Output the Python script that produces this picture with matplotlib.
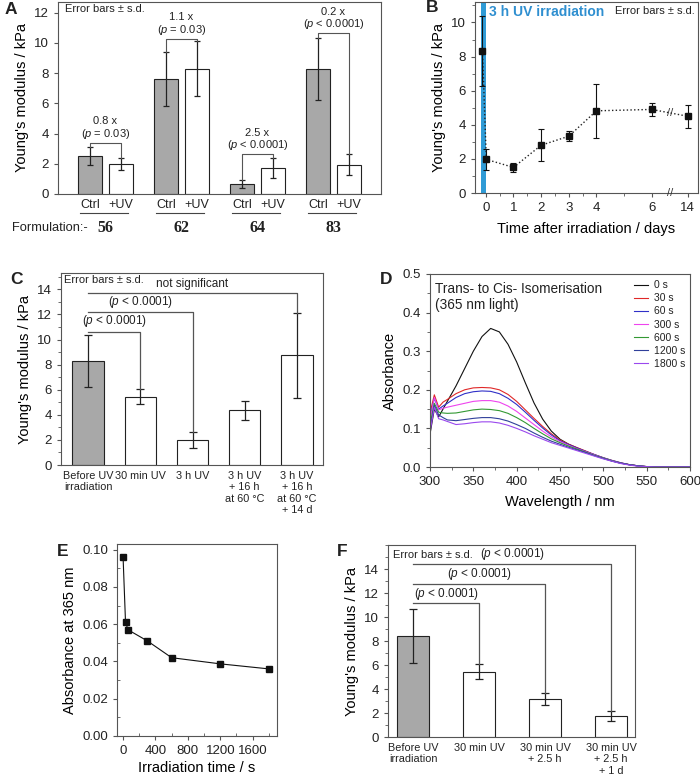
import numpy as np
import matplotlib
matplotlib.use('Agg')
import matplotlib.pyplot as plt
from matplotlib.ticker import MultipleLocator, FormatStrFormatter

plt.rcParams['font.family'] = ['Liberation Sans', 'DejaVu Sans']
plt.rcParams['mathtext.fontset'] = 'custom'
plt.rcParams['mathtext.rm'] = 'Liberation Sans'
plt.rcParams['mathtext.it'] = 'Liberation Sans:italic'
plt.rcParams['axes.edgecolor'] = '#555555'
plt.rcParams['axes.linewidth'] = 0.8
plt.rcParams['xtick.color'] = '#555555'
plt.rcParams['ytick.color'] = '#555555'
plt.rcParams['xtick.labelcolor'] = '#222222'
plt.rcParams['ytick.labelcolor'] = '#222222'
plt.rcParams['xtick.labelsize'] = 9.5
plt.rcParams['ytick.labelsize'] = 9.5
plt.rcParams['axes.labelsize'] = 10.5
plt.rcParams['text.color'] = '#222222'

# ---- panel A: formulations, ctrl vs +UV
formulations = ['56', '62', '64', '83']
ctrl_mean = [2.5, 7.6, 0.65, 8.3]
ctrl_sd = [0.6, 1.8, 0.25, 2.05]
uv_mean = [2.0, 8.3, 1.72, 1.93]
uv_sd = [0.4, 1.85, 0.68, 0.7]
fold_text = ['0.8 x', '1.1 x', '2.5 x', '0.2 x']
p_text_a = ['= 0.03', '= 0.03', '< 0.0001', '< 0.0001']
bracket_a = [3.4, 10.27, 2.65, 10.65]

# ---- panel B: time after irradiation
b_labels = ['0', '1', '2', '3', '4', '6', '14']
b_tickpos = [0, 1, 2, 3, 4, 6, 7.3]
b_x = [-0.12, 0.02, 1, 2, 3, 4, 6, 7.3]
b_mean = [8.3, 1.97, 1.5, 2.8, 3.33, 4.82, 4.9, 4.5]
b_sd = [2.05, 0.63, 0.25, 0.95, 0.3, 1.6, 0.37, 0.68]

# ---- panel C
c_labels = ['Before UV\nirradiation', '30 min UV', '3 h UV',
            '3 h UV\n+ 16 h\nat 60 °C', '3 h UV\n+ 16 h\nat 60 °C\n+ 14 d']
c_mean = [8.3, 5.45, 2.0, 4.35, 8.75]
c_sd = [2.05, 0.6, 0.63, 0.75, 3.4]
c_pairs = [1, 2, 4]
c_bracket = [10.6, 12.17, 13.73]
c_text = [r'($\it{p}$ < 0.0001)', r'($\it{p}$ < 0.0001)', 'not significant']

# ---- panel D: spectra
wl = [300, 305, 310, 315, 320, 330, 340, 350, 360, 370, 380, 390, 400, 410, 420,
      430, 440, 450, 460, 470, 480, 490, 500, 510, 520, 530, 540, 550, 560, 580, 600]
abs_0 = [0.085, 0.15, 0.13, 0.15, 0.17, 0.21, 0.255, 0.3, 0.338, 0.359, 0.35, 0.318,
         0.272, 0.218, 0.166, 0.124, 0.093, 0.072, 0.059, 0.049, 0.04, 0.031, 0.023,
         0.016, 0.01, 0.006, 0.003, 0.001, 0.0, 0.0, 0.0]
abs_30 = [0.14, 0.187, 0.155, 0.168, 0.175, 0.19, 0.2, 0.205, 0.206, 0.205, 0.2, 0.188,
          0.17, 0.148, 0.126, 0.105, 0.086, 0.07, 0.059, 0.05, 0.041, 0.032, 0.024,
          0.017, 0.011, 0.006, 0.003, 0.001, 0.0, 0.0, 0.0]
abs_60 = [0.13, 0.178, 0.15, 0.158, 0.165, 0.18, 0.19, 0.195, 0.197, 0.196, 0.19, 0.178,
          0.162, 0.142, 0.121, 0.101, 0.083, 0.068, 0.058, 0.049, 0.04, 0.032, 0.024,
          0.017, 0.011, 0.006, 0.003, 0.001, 0.0, 0.0, 0.0]
abs_300 = [0.12, 0.18, 0.148, 0.152, 0.155, 0.16, 0.165, 0.17, 0.172, 0.172, 0.168, 0.158,
           0.144, 0.127, 0.11, 0.093, 0.078, 0.066, 0.056, 0.047, 0.039, 0.031, 0.023,
           0.016, 0.01, 0.006, 0.003, 0.001, 0.0, 0.0, 0.0]
abs_600 = [0.11, 0.165, 0.142, 0.14, 0.139, 0.14, 0.144, 0.148, 0.15, 0.149, 0.146, 0.139,
           0.128, 0.115, 0.1, 0.086, 0.073, 0.063, 0.054, 0.046, 0.038, 0.03, 0.023,
           0.016, 0.01, 0.006, 0.003, 0.001, 0.0, 0.0, 0.0]
abs_1200 = [0.1, 0.16, 0.135, 0.128, 0.122, 0.12, 0.123, 0.126, 0.128, 0.128, 0.125, 0.119,
            0.11, 0.1, 0.088, 0.077, 0.067, 0.059, 0.051, 0.044, 0.037, 0.029, 0.022,
            0.015, 0.01, 0.006, 0.003, 0.001, 0.0, 0.0, 0.0]
abs_1800 = [0.09, 0.155, 0.125, 0.122, 0.118, 0.11, 0.112, 0.115, 0.117, 0.117, 0.114, 0.108,
            0.1, 0.091, 0.081, 0.072, 0.063, 0.056, 0.049, 0.042, 0.035, 0.028, 0.021,
            0.015, 0.009, 0.005, 0.002, 0.001, 0.0, 0.0, 0.0]
spec_labels = ['0 s', '30 s', '60 s', '300 s', '600 s', '1200 s', '1800 s']
spec_colors = ['#111111', '#e02828', '#3030c8', '#ee44ee', '#339933', '#30409a', '#9a48ee']

# ---- panel E
e_time = [0, 30, 60, 300, 600, 1200, 1800]
e_abs = [0.096, 0.0612, 0.057, 0.051, 0.042, 0.0387, 0.036]

# ---- panel F
f_labels = ['Before UV\nirradiation', '30 min UV', '30 min UV\n+ 2.5 h',
            '30 min UV\n+ 2.5 h\n+ 1 d']
f_mean = [8.45, 5.45, 3.2, 1.75]
f_sd = [2.25, 0.62, 0.5, 0.38]
f_pairs = [1, 2, 3]
f_bracket = [11.13, 12.75, 14.4]

W, H = 700, 776
fig = plt.figure(figsize=(7, 7.76), dpi=100)


def box(l, t, r, b):
    return [l / W, 1 - b / H, (r - l) / W, (b - t) / H]


grey = '#a8a8a8'
ekw = dict(elinewidth=0.9, ecolor='#222222', capthick=0.9)
brc = '#555555'

# ================= A =================
ax = fig.add_axes(box(58, 2, 381, 194))
x = np.arange(len(formulations))
ax.bar(x - 0.2, ctrl_mean, 0.32, color=grey, edgecolor='#222222', lw=0.8,
       yerr=ctrl_sd, capsize=2, error_kw=ekw)
ax.bar(x + 0.2, uv_mean, 0.32, color='white', edgecolor='#222222', lw=0.8,
       yerr=uv_sd, capsize=2, error_kw=ekw)
ax.set_xlim(-0.625, 3.625)
ax.set_ylim(0, 12.7)
ax.set_yticks(range(0, 13, 2))
ax.set_xticks([])
ax.tick_params(axis='y', length=3, width=0.8)
ax.set_ylabel("Young's modulus / kPa")
for i in range(len(formulations)):
    xl, xr = i - 0.2, i + 0.2
    yl = ctrl_mean[i] + ctrl_sd[i]
    yr = uv_mean[i] + uv_sd[i]
    yb = bracket_a[i]
    ax.plot([xl, xl, xr, xr], [yl, yb, yb, yr], color=brc, lw=0.8)
    ax.text(i, yb + 0.12, fold_text[i] + '\n' + r'($\it{p}$ ' + p_text_a[i] + ')',
            ha='center', va='bottom', fontsize=8, linespacing=1.05)
    tr = ax.get_xaxis_transform()
    ax.text(xl, -0.057, 'Ctrl', ha='center', va='center', fontsize=9, transform=tr)
    ax.text(xr, -0.057, '+UV', ha='center', va='center', fontsize=9, transform=tr)
    ax.plot([i - 0.33, i + 0.3], [-0.1, -0.1], color='#444444', lw=0.8,
            transform=tr, clip_on=False)
    ax.text(i, -0.177, formulations[i], ha='center', va='center', fontsize=11.5,
            fontweight='bold', family='Liberation Serif', transform=tr)
ax.text(0.022, 0.962, 'Error bars ± s.d.', transform=ax.transAxes, fontsize=8,
        va='center', ha='left')
fig.text(12 / W, 1 - 228 / H, 'Formulation:-', fontsize=9.3, va='center')
fig.text(5 / W, 1 - 10 / H, 'A', fontsize=12.5, fontweight='bold', va='center')

# ================= B =================
ax = fig.add_axes(box(475, 2, 698, 193))
ax.axvspan(-0.19, 0.0, color='#2f9bd6', lw=0)
ax.errorbar(b_x, b_mean, yerr=b_sd, fmt='s', color='#111111', ms=4, capsize=2,
            elinewidth=0.8, capthick=0.8, zorder=3)
ax.plot(b_x, b_mean, ':', color='#222222', lw=1.0, zorder=2)
ax.set_xlim(-0.39, 7.67)
ax.set_ylim(0, 11.2)
ax.set_xticks(b_tickpos)
ax.set_xticklabels(b_labels)
ax.set_xticks([0.5, 1.5, 2.5, 3.5, 5], minor=True)
ax.set_yticks(range(0, 11, 2))
ax.yaxis.set_minor_locator(MultipleLocator(1))
ax.tick_params(which='major', length=3, width=0.8)
ax.tick_params(which='minor', length=2, width=0.6)
ax.set_ylabel("Young's modulus / kPa")
ax.set_xlabel('Time after irradiation / days', labelpad=6)
ax.text(6.65, 0, '//', ha='center', va='center', fontsize=8, color='#333333',
        clip_on=False, zorder=5)
ax.text(6.65, 4.72, '//', ha='center', va='center', fontsize=8, color='#333333',
        zorder=5)
ax.text(0.1, 10.6, '3 h UV irradiation', color='#2f8fd0', fontweight='bold',
        fontsize=10, va='center')
ax.text(0.985, 0.955, 'Error bars ± s.d.', transform=ax.transAxes, fontsize=8,
        va='center', ha='right')
fig.text(426 / W, 1 - 8 / H, 'B', fontsize=12.5, fontweight='bold', va='center')

# ================= C =================
ax = fig.add_axes(box(61, 273, 323, 465))
x = np.arange(len(c_mean))
colors_c = [grey] + ['white'] * (len(c_mean) - 1)
ax.bar(x, c_mean, 0.6, color=colors_c, edgecolor='#222222', lw=0.8,
       yerr=c_sd, capsize=3, error_kw=ekw)
ax.set_xlim(-0.52, 4.5)
ax.set_ylim(0, 15.3)
ax.set_yticks(range(0, 15, 2))
ax.yaxis.set_minor_locator(MultipleLocator(1))
ax.tick_params(which='major', length=3, width=0.8)
ax.tick_params(which='minor', length=2, width=0.6)
ax.set_xticks(x)
ax.set_xticklabels(c_labels, fontsize=7.8, linespacing=1.2)
ax.tick_params(axis='x', length=0, pad=4)
ax.set_ylabel("Young's modulus / kPa")
for j, k in enumerate(c_pairs):
    yb = c_bracket[j]
    ax.plot([0, k, k], [yb, yb, c_mean[k] + c_sd[k]], color=brc, lw=0.9)
    ax.text(k / 2, yb + 0.2, c_text[j], ha='center', va='bottom', fontsize=8.5)
ax.text(0.01, 0.962, 'Error bars ± s.d.', transform=ax.transAxes, fontsize=8,
        va='center', ha='left')
fig.text(10 / W, 1 - 279 / H, 'C', fontsize=12.5, fontweight='bold', va='center')

# ================= D =================
ax = fig.add_axes(box(430, 274, 690, 467))
spectra = [abs_0, abs_30, abs_60, abs_300, abs_600, abs_1200, abs_1800]
for s, lab, col in zip(spectra, spec_labels, spec_colors):
    ax.plot(wl, s, color=col, lw=0.8, label=lab)
ax.set_xlim(300, 600)
ax.set_ylim(0, 0.5)
ax.xaxis.set_major_locator(MultipleLocator(50))
ax.xaxis.set_minor_locator(MultipleLocator(25))
ax.yaxis.set_major_locator(MultipleLocator(0.1))
ax.yaxis.set_minor_locator(MultipleLocator(0.05))
ax.yaxis.set_major_formatter(FormatStrFormatter('%.1f'))
ax.tick_params(which='major', length=3, width=0.8)
ax.tick_params(which='minor', length=2, width=0.6)
ax.set_ylabel('Absorbance')
ax.set_xlabel('Wavelength / nm', labelpad=5)
ax.legend(loc='upper left', bbox_to_anchor=(0.76, 1.0), frameon=False,
          fontsize=7.5, handlelength=1.4, handletextpad=0.5, labelspacing=0.3,
          borderaxespad=0.2)
ax.text(0.02, 0.96, 'Trans- to Cis- Isomerisation\n(365 nm light)',
        transform=ax.transAxes, fontsize=9.8, va='top', ha='left', linespacing=1.2)
fig.text(380 / W, 1 - 279 / H, 'D', fontsize=12.5, fontweight='bold', va='center')

# ================= E =================
ax = fig.add_axes(box(117, 544, 277, 736))
ax.plot(e_time, e_abs, '-s', color='#111111', lw=0.8, ms=4)
ax.set_xlim(-75, 1900)
ax.set_ylim(0, 0.103)
ax.xaxis.set_major_locator(MultipleLocator(400))
ax.xaxis.set_minor_locator(MultipleLocator(200))
ax.yaxis.set_major_locator(MultipleLocator(0.02))
ax.yaxis.set_minor_locator(MultipleLocator(0.01))
ax.yaxis.set_major_formatter(FormatStrFormatter('%.2f'))
ax.tick_params(which='major', length=3, width=0.8)
ax.tick_params(which='minor', length=2, width=0.6, direction='in')
ax.set_ylabel('Absorbance at 365 nm')
ax.set_xlabel('Irradiation time / s', labelpad=3)
fig.text(57 / W, 1 - 552 / H, 'E', fontsize=12.5, fontweight='bold', va='center')

# ================= F =================
ax = fig.add_axes(box(388, 545, 635, 737))
x = np.arange(len(f_mean))
colors_f = [grey] + ['white'] * (len(f_mean) - 1)
ax.bar(x, f_mean, 0.48, color=colors_f, edgecolor='#222222', lw=0.8,
       yerr=f_sd, capsize=3, error_kw=ekw)
ax.set_xlim(-0.38, 3.36)
ax.set_ylim(0, 16)
ax.set_yticks(range(0, 15, 2))
ax.yaxis.set_minor_locator(MultipleLocator(1))
ax.tick_params(which='major', length=3, width=0.8)
ax.tick_params(which='minor', length=2, width=0.6)
ax.set_xticks(x)
ax.set_xticklabels(f_labels, fontsize=7.8, linespacing=1.2)
ax.tick_params(axis='x', length=0, pad=4)
ax.set_ylabel("Young's modulus / kPa")
for j, k in enumerate(f_pairs):
    yb = f_bracket[j]
    ax.plot([0, k, k], [yb, yb, f_mean[k] + f_sd[k]], color=brc, lw=0.9)
    ax.text(k / 2, yb + 0.15, r'($\it{p}$ < 0.0001)', ha='center', va='bottom',
            fontsize=8.5)
ax.text(0.02, 0.95, 'Error bars ± s.d.', transform=ax.transAxes, fontsize=8,
        va='center', ha='left')
fig.text(337 / W, 1 - 552 / H, 'F', fontsize=12.5, fontweight='bold', va='center')

fig.savefig('out.png', dpi=100)
